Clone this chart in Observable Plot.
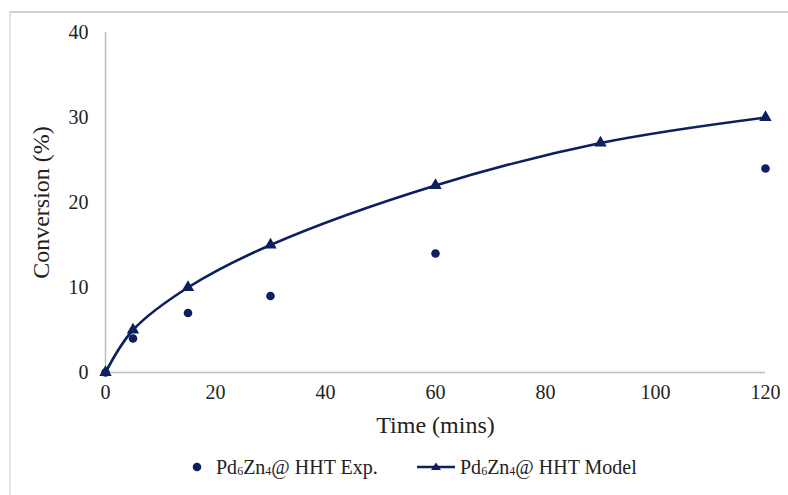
<!DOCTYPE html>
<html>
<head>
<meta charset="utf-8">
<script src="https://cdn.jsdelivr.net/npm/d3@7"></script>
<script src="https://cdn.jsdelivr.net/npm/@observablehq/plot@0.6"></script>
<style>
  html, body { margin: 0; padding: 0; background: #fff; }
  #wrap { position: relative; width: 788px; height: 495px; overflow: hidden; font-family: "Liberation Serif", "Times New Roman", serif; }
  #frame { position: absolute; left: 9px; top: 11px; right: -5px; bottom: -5px; border-top: 2px solid #d0d0d0; border-left: 2px solid #e4e4e4; }
  #chart { position: absolute; left: 0; top: 0; }
  #legend { position: absolute; top: 454px; left: 0; width: 788px; height: 26px; font-size: 20px; color: #222; }
  .item { position: absolute; top: 0; display: flex; align-items: center; height: 26px; white-space: nowrap; }
  sub { font-size: 12px; vertical-align: -1px; }
</style>
</head>
<body>
<div id="wrap">
  <div id="frame"></div>
  <div id="chart"></div>
  <div id="legend"></div>
</div>
<script>
const color = "#0c1f5f";

const expTime = [0, 5, 15, 30, 60, 120];
const expConversion = [0, 4, 7, 9, 14, 24];

const modelTime = [0, 5, 15, 30, 60, 90, 120];
const modelConversion = [0, 5, 10, 15, 22, 27, 30];

const xTicks = [0, 20, 40, 60, 80, 100, 120];
const yTicks = [0, 10, 20, 30, 40];

const seriesExpLabel = "Pd<sub>6</sub>Zn<sub>4</sub>@ HHT Exp.";
const seriesModelLabel = "Pd<sub>6</sub>Zn<sub>4</sub>@ HHT Model";

const exp = expTime.map((t, i) => ({t, c: expConversion[i]}));
const model = modelTime.map((t, i) => ({t, c: modelConversion[i]}));

const plot = Plot.plot({
  width: 788,
  height: 440,
  marginLeft: 105,
  marginRight: 23,
  marginTop: 32,
  marginBottom: 68,
  style: { fontFamily: "'Liberation Serif', 'Times New Roman', serif", fontSize: "20px", color: "#222", background: "transparent", overflow: "visible" },
  x: { domain: [0, 120] },
  y: { domain: [0, 40] },
  marks: [
    Plot.ruleX([0], { stroke: "#bdbdbd", strokeWidth: 1.5 }),
    Plot.ruleY([0], { stroke: "#bdbdbd", strokeWidth: 1.5 }),
    Plot.axisX({ ticks: xTicks, tickSize: 0, tickPadding: 12, fontSize: 20, label: "Time (mins)", labelAnchor: "center", labelArrow: "none", labelOffset: 60 }),
    Plot.axisY({ ticks: yTicks, tickSize: 0, tickPadding: 17, fontSize: 20, label: "Conversion (%)", labelAnchor: "center", labelArrow: "none", labelOffset: 74 }),
    Plot.line(model, { x: "t", y: "c", stroke: color, strokeWidth: 2.6, curve: "catmull-rom" }),
    Plot.dot(model, { x: "t", y: "c", symbol: "triangle", r: 4.6, fill: color, stroke: "none" }),
    Plot.dot(exp, { x: "t", y: "c", r: 4.3, fill: color, stroke: "none" })
  ]
});

// style axis titles larger
plot.querySelectorAll('g[aria-label="x-axis label"] text, g[aria-label="y-axis label"] text').forEach(t => {
  t.setAttribute("font-size", "24");
  t.style.fontSize = "24px";
});
document.getElementById("chart").appendChild(plot);

const legend = document.getElementById("legend");
legend.innerHTML = `
  <div class="item" style="left:190px">
    <svg width="16" height="16" style="margin-right:10px"><circle cx="7" cy="8" r="4.3" fill="${color}"/></svg>
    <span>${seriesExpLabel}</span>
  </div>
  <div class="item" style="left:417px">
    <svg width="40" height="16" style="margin-right:3px"><line x1="0" y1="8" x2="38" y2="8" stroke="${color}" stroke-width="2.6"/><path d="M19,3.5 L24,11 L14,11 Z" fill="${color}"/></svg>
    <span>${seriesModelLabel}</span>
  </div>`;
</script>
</body>
</html>
